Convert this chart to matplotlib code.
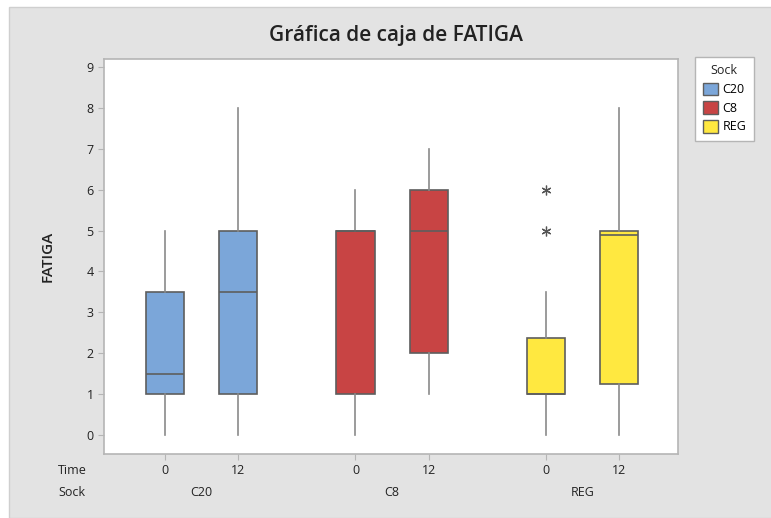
import matplotlib.pyplot as plt
from matplotlib.patches import Patch, Rectangle
from matplotlib.transforms import blended_transform_factory

plt.rcParams['font.family'] = ['Open Sans', 'DejaVu Sans']

# five-number summaries of FATIGA per Sock / Time
socks = ["C20", "C8", "REG"]
times = ["0", "12"]
whislo = [0, 0, 0, 1, 0, 0]
q1 = [1, 1, 1, 2, 1, 1.25]
med = [1.5, 3.5, 5, 5, 1, 4.9]
q3 = [3.5, 5, 5, 6, 2.375, 5]
whishi = [5, 8, 6, 7, 3.5, 8]
fliers = [[], [], [], [], [5, 6], []]

colors = {"C20": "#7BA6D9", "C8": "#C84444", "REG": "#FFE840"}
positions = [0, 1, 2.6, 3.6, 5.2, 6.2]

fig = plt.figure(figsize=(7.71, 5.18), dpi=100, facecolor="white")
fig.patches.append(Rectangle((9 / 771, 0), 1, 1 - 7 / 518, transform=fig.transFigure,
                             facecolor="#E3E3E3", edgecolor="#CFCFCF", lw=1, zorder=-1))
ax = fig.add_axes([0.1349, 0.1236, 0.7445, 0.7624])

stats = []
for i in range(6):
    stats.append(dict(whislo=whislo[i], q1=q1[i], med=med[i], q3=q3[i],
                      whishi=whishi[i], fliers=fliers[i]))

bp = ax.bxp(stats, positions=positions, widths=0.52, patch_artist=True,
            showcaps=False,
            boxprops=dict(edgecolor="#5E5E5E", linewidth=1.2),
            medianprops=dict(color="#5E5E5E", linewidth=1.2),
            whiskerprops=dict(color="#8A8A8A", linewidth=1.2),
            flierprops=dict(marker=(6, 2, 0), markersize=7, markeredgecolor="#555555",
                            markeredgewidth=0.9, linestyle="none"))
for i, box in enumerate(bp["boxes"]):
    box.set_facecolor(colors[socks[i // 2]])

ax.set_xlim(-0.83, 7.0)
ax.set_ylim(-0.46, 9.19)
ax.set_yticks(range(10))
ax.set_xticks(positions)
ax.set_xticklabels([])
for s in ax.spines.values():
    s.set_color("#B5B5B5")
    s.set_linewidth(1.2)
ax.tick_params(colors="#B5B5B5", labelcolor="#222222", labelsize=9, length=4)

# two-level category labels under the axis
tr = blended_transform_factory(ax.transData, fig.transFigure)
y_time = 1 - 470 / 518
y_sock = 1 - 493 / 518
for i, p in enumerate(positions):
    ax.text(p, y_time, times[i % 2], transform=tr, ha="center", va="center",
            fontsize=9, color="#222222")
for g, s in enumerate(socks):
    ax.text((positions[2 * g] + positions[2 * g + 1]) / 2, y_sock, s, transform=tr,
            ha="center", va="center", fontsize=9, color="#222222")
fig.text(72 / 771, y_time, "Time", ha="center", va="center", fontsize=9, color="#222222")
fig.text(72 / 771, y_sock, "Sock", ha="center", va="center", fontsize=9, color="#222222")

ax.set_ylabel("FATIGA", fontsize=11, fontweight="semibold", color="#222222", labelpad=23)
fig.text(396 / 771, 1 - 35 / 518, "Gráfica de caja de FATIGA", ha="center", va="center",
         fontsize=15, fontweight="semibold", color="#222222")

handles = [Patch(facecolor=colors[s], edgecolor="#5E5E5E", label=s) for s in socks]
leg = fig.legend(handles=handles, title="Sock", loc="upper left",
                 bbox_to_anchor=(695 / 771, 1 - 57 / 518), borderaxespad=0,
                 fontsize=9, title_fontsize=9,
                 handlelength=1.2, handleheight=1.2, handletextpad=0.4,
                 borderpad=0.6, labelspacing=0.4, fancybox=False, framealpha=1)
leg.get_frame().set_edgecolor("#B5B5B5")
leg.get_title().set_color("#222222")

fig.savefig("out.png", dpi=100, facecolor=fig.get_facecolor())
